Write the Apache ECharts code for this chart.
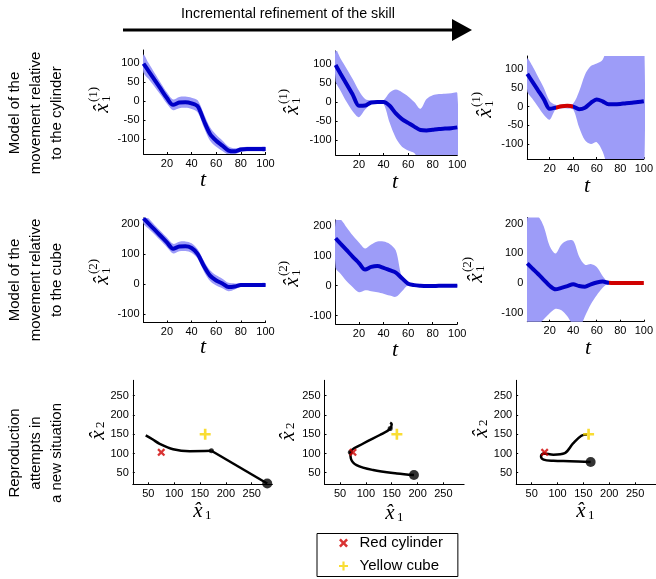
<!DOCTYPE html>
<html>
<head>
<meta charset="utf-8">
<script src="https://cdn.jsdelivr.net/npm/echarts@6/dist/echarts.min.js"></script>
<style>
html, body { margin: 0; padding: 0; background: #fff; }
#main { width: 656px; height: 579px; }
</style>
</head>
<body>
<div id="main"></div>
<script>
// time samples shared by the six model plots
var tSteps = [1, 5, 10, 15, 20, 25, 30, 35, 40, 45, 50, 55, 60, 65, 70, 75, 80, 85, 90, 95, 100];

// row 1 : model relative to the cylinder
var cylMean1 = [99, 80, 56, 32, 8, -10, -4, -3, -6, -14, -52, -87, -105, -118, -131, -133, -128, -127, -127, -127, -127];
var cylUp1   = [123, 101, 74, 48, 23, 4, 11, 12, 9, 2, -34, -69, -89, -104, -120, -125, -122, -121, -121, -121, -121];
var cylLow1  = [75, 59, 38, 16, -7, -24, -19, -18, -21, -30, -70, -105, -121, -132, -142, -141, -134, -133, -133, -133, -133];

var cylMean2 = [98, 75, 47, 19, -10, -9, -1, 0, 0, -10, -30, -45, -55, -65, -74, -75, -73, -71, -70, -69, -67];
var cylUp2   = [140, 115, 88, 60, 30, 8, 4, 4, 5, 25, 33, 26, 15, 0, -18, 8, 18, 21, 22, 23, 24];
var cylLow2  = [55, 30, 0, -25, -40, -20, -5, -4, -5, -55, -95, -118, -128, -135, -160, -180, -180, -180, -180, -180, -180];

var cylMean3 = [87, 68, 44, 20, -6, -3, 1, 2, 0, -7, -3, 10, 19, 14, 6, 6, 7, 9, 10, 12, 14];
var cylUp3   = [128, 110, 80, 50, 15, 5, 5, 6, 8, 40, 85, 108, 115, 125, 170, 200, 200, 200, 200, 200, 200];
var cylLow3  = [40, 22, 0, -22, -35, -8, -5, -5, -8, -55, -90, -100, -95, -120, -170, -200, -200, -200, -200, -200, -200];
var cylRed3  = [25, 40];

// row 2 : model relative to the cube
var cubeMean1 = [219, 202, 181, 160, 139, 118, 125, 126, 120, 100, 60, 28, 12, 2, -10, -8, -3, -3, -3, -3, -3];
var cubeUp1   = [236, 219, 197, 176, 155, 134, 141, 142, 136, 116, 78, 46, 29, 18, 4, 2, 3, 3, 3, 3, 3];
var cubeLow1  = [202, 185, 165, 144, 123, 102, 109, 110, 104, 84, 42, 10, -5, -14, -24, -18, -9, -9, -9, -9, -9];

var cubeMean2 = [159, 141, 119, 97, 76, 54, 63, 66, 60, 52, 44, 25, 7, 2, 0, -1, -1, 0, 0, 0, 0];
var cubeUp2   = [222, 222, 195, 168, 145, 125, 138, 148, 148, 140, 118, 28, 10, 4, 3, 3, 3, 3, 3, 3, 3];
var cubeLow2  = [60, 40, 15, -5, -22, -15, -18, -22, -27, -33, -37, -18, 2, -3, -3, -3, -3, -3, -3, -3, -3];

var cubeMean3 = [67, 51, 32, 12, -8, -20, -15, -9, -3, -9, -11, -3, 3, 6, 2, 1, 1, 1, 1, 1, 1];
var cubeUp3   = [230, 230, 225, 190, 125, 100, 130, 143, 142, 90, 62, 65, 55, 25, 3, 2, 2, 2, 2, 2, 2];
var cubeLow3  = [-150, -150, -140, -120, -100, -85, -90, -110, -140, -150, -110, -70, -40, -15, 0, 0, 0, 0, 0, 0, 0];
var cubeRed3  = [70, 100];

// row 3 : reproductions (x1, x2)
var repro1Curve = [[45, 147], [58, 137], [72, 125], [98, 111], [130, 106], [172, 107]];
var repro1Line  = [[172, 107], [280, 22]];
var repro2Curve = [[193, 44], [160, 48], [114, 57], [82, 70], [71, 87], [70, 103], [95, 126], [127, 148], [146, 163], [150, 176], [147, 180]];
var repro3Curve = [[164, 78], [124, 80], [92, 81], [73, 84], [68, 93], [73, 100], [92, 97], [114, 101], [130, 126], [146, 146], [157, 149]];
var startDots = [[[280, 22]], [[193, 44]], [[164, 78]]];
var viaDots   = [[[172, 107]], [[70, 103], [147, 165]], []];
var cylinderPos = [75, 103];
var cubePos = [160, 150];

// ticks
var tTicks = [20, 40, 60, 80, 100];
var cylTicks = [-100, -50, 0, 50, 100];
var cubeTicks = [-100, 0, 100, 200];
var posTicks = [50, 100, 150, 200, 250];

var BLUE = '#0000c6', BAND = '#9d9cf8', RED = '#d00000', YELLOW = '#f7d400';
var FONT = '"Liberation Sans", Arial, sans-serif';
var MATH = '"Liberation Serif", "DejaVu Serif", serif';

var grids = [
  { left: 143.5, top: 50, width: 122, height: 104 },
  { left: 335.6, top: 51, width: 121.7, height: 104 },
  { left: 527.3, top: 56, width: 121.7, height: 103 },
  { left: 143.5, top: 218, width: 122, height: 104.5 },
  { left: 335.6, top: 220, width: 121.7, height: 104 },
  { left: 527.3, top: 217.5, width: 121.7, height: 104.2 },
  { left: 132.8, top: 380.3, width: 139.6, height: 104 },
  { left: 324.5, top: 380.3, width: 139.6, height: 104 },
  { left: 516.2, top: 380.3, width: 139.6, height: 104 }
];

function axisBase(k, min, max, ticks) {
  return {
    gridIndex: k, type: 'value', min: min, max: max,
    axisLine: { show: true, onZero: false, lineStyle: { color: '#000', width: 1 } },
    axisTick: { show: true, inside: true, length: 2, customValues: ticks, lineStyle: { color: '#000' } },
    axisLabel: { customValues: ticks, color: '#000', fontSize: 11, fontFamily: FONT, margin: 4 },
    splitLine: { show: false }
  };
}

var xAxes = [], yAxes = [];
for (var k = 0; k < 9; k++) {
  if (k < 6) {
    xAxes.push(axisBase(k, 1, 100, tTicks));
    yAxes.push(k < 3 ? axisBase(k, -140, 135, cylTicks) : axisBase(k, -128, 220, cubeTicks));
  } else {
    xAxes.push(axisBase(k, 20, 290, posTicks));
    yAxes.push(axisBase(k, 20, 290, posTicks));
  }
}

function pairs(ys) {
  return tSteps.map(function (x, i) { return [x, ys[i]]; });
}

var series = [];
var visualMaps = [];

function addModel(k, mean, up, low, red) {
  // confidence band: one polygon through the upper then the lower bound
  series.push({
    type: 'custom', xAxisIndex: k, yAxisIndex: k, data: [[tSteps[0], up[0]]],
    clip: true, silent: true, z: 1,
    renderItem: function (params, api) {
      var pts = [];
      for (var i = 0; i < tSteps.length; i++) pts.push(api.coord([tSteps[i], up[i]]));
      for (var j = tSteps.length - 1; j >= 0; j--) pts.push(api.coord([tSteps[j], low[j]]));
      return { type: 'polygon', shape: { points: pts, smooth: 0.3 }, style: { fill: BAND } };
    }
  });
  var line = {
    type: 'line', xAxisIndex: k, yAxisIndex: k, data: pairs(mean),
    smooth: 0.3, symbol: 'none', lineStyle: { width: 4 }, itemStyle: { color: BLUE }, z: 3
  };
  series.push(line);
  if (red) {
    visualMaps.push({
      type: 'piecewise', show: false, seriesIndex: series.length - 1, dimension: 0,
      pieces: [
        { lt: red[0], color: BLUE },
        { gte: red[0], lte: red[1], color: RED },
        { gt: red[1], color: BLUE }
      ]
    });
  } else {
    line.lineStyle.color = BLUE;
  }
}

addModel(0, cylMean1, cylUp1, cylLow1);
addModel(1, cylMean2, cylUp2, cylLow2);
addModel(2, cylMean3, cylUp3, cylLow3, cylRed3);
addModel(3, cubeMean1, cubeUp1, cubeLow1);
addModel(4, cubeMean2, cubeUp2, cubeLow2);
addModel(5, cubeMean3, cubeUp3, cubeLow3, cubeRed3);

var CROSS = 'path://M2,0 L5,3 L8,0 L10,2 L7,5 L10,8 L8,10 L5,7 L2,10 L0,8 L3,5 L0,2 Z';
var PLUS = 'path://M3.8,0 H6.2 V3.8 H10 V6.2 H6.2 V10 H3.8 V6.2 H0 V3.8 H3.8 Z';

var curves = [[repro1Curve, repro1Line], [repro2Curve], [repro3Curve]];
curves.forEach(function (parts, j) {
  var k = 6 + j;
  parts.forEach(function (pts, p) {
    series.push({
      type: 'line', xAxisIndex: k, yAxisIndex: k, data: pts,
      smooth: p === 0 ? 0.35 : false, symbol: 'none',
      lineStyle: { color: '#000', width: 2.5 }, z: 3
    });
  });
  series.push({
    type: 'scatter', xAxisIndex: k, yAxisIndex: k, data: startDots[j],
    symbol: 'circle', symbolSize: 10, itemStyle: { color: '#000' }, z: 4
  });
  series.push({
    type: 'scatter', xAxisIndex: k, yAxisIndex: k, data: viaDots[j],
    symbol: 'circle', symbolSize: 5, itemStyle: { color: '#000' }, z: 4
  });
  series.push({
    name: 'Red cylinder', type: 'scatter', xAxisIndex: k, yAxisIndex: k, data: [cylinderPos],
    symbol: CROSS, symbolSize: 8, itemStyle: { color: RED }, z: 5
  });
  series.push({
    name: 'Yellow cube', type: 'scatter', xAxisIndex: k, yAxisIndex: k, data: [cubePos],
    symbol: PLUS, symbolSize: 11, itemStyle: { color: YELLOW }, z: 5
  });
});

// math axis names, drawn as small groups of text
function mathName(x, y, sup, sub, rotated, supOff, subOff) {
  var kids = [
    { type: 'text', x: 0, y: 0, style: { text: 'x\u0302', font: 'italic 21px ' + MATH, fill: '#000', textAlign: 'center', textVerticalAlign: 'middle' } }
  ];
  if (sup) kids.push({ type: 'text', x: supOff[0], y: supOff[1], style: { text: sup, font: '13px ' + MATH, fill: '#000', textAlign: 'left', textVerticalAlign: 'middle' } });
  if (sub) kids.push({ type: 'text', x: subOff[0], y: subOff[1], style: { text: sub, font: '13px ' + MATH, fill: '#000', textAlign: 'left', textVerticalAlign: 'middle' } });
  return { type: 'group', x: x, y: y, rotation: rotated ? Math.PI / 2 : 0, children: kids };
}

function tName(x, y) {
  return { type: 'text', x: x, y: y, style: { text: 't', font: 'italic 22px ' + MATH, fill: '#000', textAlign: 'center', textVerticalAlign: 'middle' } };
}

var graphics = [
  { type: 'text', x: 288, y: 14, style: { text: 'Incremental refinement of the skill', font: '14.3px ' + FONT, fill: '#000', textAlign: 'center', textVerticalAlign: 'middle' } },
  { type: 'line', shape: { x1: 123, y1: 30, x2: 455, y2: 30 }, style: { stroke: '#000', lineWidth: 3 } },
  { type: 'polygon', shape: { points: [[452, 19], [472, 30], [452, 41]] }, style: { fill: '#000' } },
  { type: 'text', x: 36, y: 113, rotation: Math.PI / 2, style: { text: 'Model of the\nmovement relative\nto the cylinder', font: '15px ' + FONT, fill: '#000', textAlign: 'center', textVerticalAlign: 'middle', lineHeight: 21 } },
  { type: 'text', x: 36, y: 280, rotation: Math.PI / 2, style: { text: 'Model of the\nmovement relative\nto the cube', font: '15px ' + FONT, fill: '#000', textAlign: 'center', textVerticalAlign: 'middle', lineHeight: 21 } },
  { type: 'text', x: 36, y: 453, rotation: Math.PI / 2, style: { text: 'Reproduction\nattempts in\na new situation', font: '15px ' + FONT, fill: '#000', textAlign: 'center', textVerticalAlign: 'middle', lineHeight: 21 } },
  mathName(102, 108, '(1)', '1', true, [6, -8], [6, 5]),
  mathName(292, 110, '(1)', '1', true, [6, -8], [6, 5]),
  mathName(485, 113, '(1)', '1', true, [6, -8], [6, 5]),
  mathName(102, 280, '(2)', '1', true, [6, -8], [6, 5]),
  mathName(292, 282, '(2)', '1', true, [6, -8], [6, 5]),
  mathName(476, 278, '(2)', '1', true, [6, -8], [6, 5]),
  mathName(98, 435, null, '2', true, null, [7, 3]),
  mathName(288, 436, null, '2', true, null, [7, 3]),
  mathName(481, 433, null, '2', true, null, [7, 3]),
  tName(203, 180), tName(395, 182), tName(587, 186),
  tName(203, 347), tName(395, 350), tName(588, 348),
  mathName(198, 511, null, '1', false, null, [7, 5]),
  mathName(390, 513, null, '1', false, null, [7, 5]),
  mathName(581, 511, null, '1', false, null, [7, 5])
];

var chart = echarts.init(document.getElementById('main'));
chart.setOption({
  animation: false,
  grid: grids,
  xAxis: xAxes,
  yAxis: yAxes,
  visualMap: visualMaps,
  legend: {
    orient: 'vertical', left: 317, top: 533.5,
    padding: [2, 15, 3, 22], itemGap: 8, itemWidth: 22, itemHeight: 9,
    borderColor: '#000', borderWidth: 1, selectedMode: false,
    textStyle: { color: '#000', fontSize: 15, fontFamily: FONT },
    data: [
      { name: 'Red cylinder', icon: CROSS },
      { name: 'Yellow cube', icon: PLUS }
    ]
  },
  graphic: graphics,
  series: series
});
</script>
</body>
</html>
